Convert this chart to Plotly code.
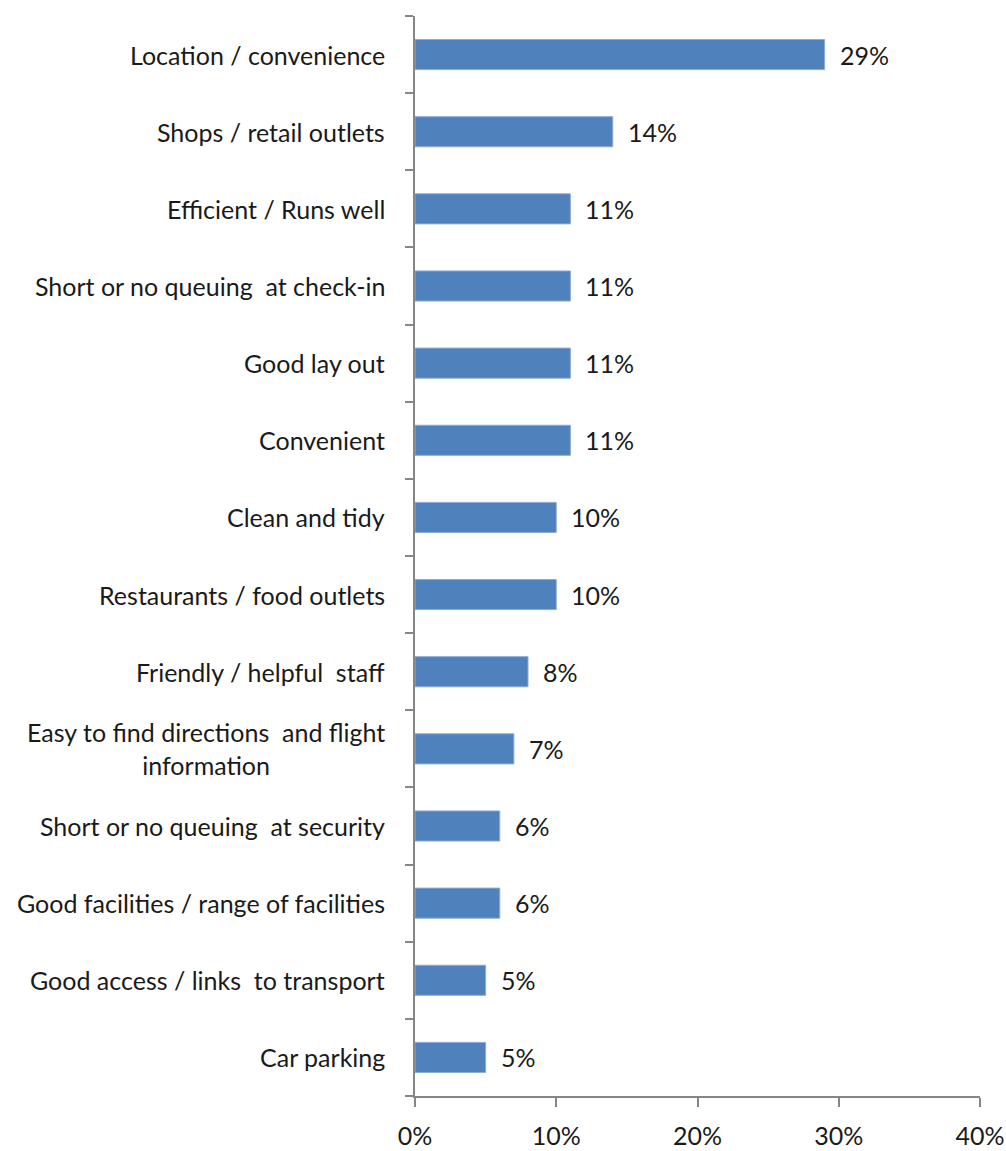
import plotly.graph_objects as go

# Reasons given for rating the airport positively (share of respondents, %)
categories = [
    "Location / convenience",
    "Shops / retail outlets",
    "Efficient / Runs well",
    "Short or no queuing  at check-in",
    "Good lay out",
    "Convenient",
    "Clean and tidy",
    "Restaurants / food outlets",
    "Friendly / helpful  staff",
    "Easy to find directions  and flight<br>information",
    "Short or no queuing  at security",
    "Good facilities / range of facilities",
    "Good access / links  to transport",
    "Car parking",
]
values = [29, 14, 11, 11, 11, 11, 10, 10, 8, 7, 6, 6, 5, 5]
x_ticks = [0, 10, 20, 30, 40]
x_tick_labels = ["0%", "10%", "20%", "30%", "40%"]

FONT = "Lato"
FONT_SIZE = 25
TEXT_COLOR = "#1a1a1a"
AXIS_COLOR = "#868686"
BAR_COLOR = "#4f81bd"

fig = go.Figure(
    go.Bar(
        x=values,
        y=categories,
        orientation="h",
        marker=dict(color=BAR_COLOR, line=dict(color="#8eaad6", width=1)),
        width=0.39,
        hoverinfo="skip",
    )
)

annotations = []
# Category labels, centred on multiple lines and right-aligned next to the axis
for cat in categories:
    annotations.append(dict(
        x=0, xref="paper", y=cat, yref="y",
        text=cat, showarrow=False,
        xanchor="right", yanchor="middle", align="center",
        xshift=-28,
        font=dict(family=FONT, size=FONT_SIZE, color=TEXT_COLOR),
    ))
# Value labels just past the end of each bar
for cat, v in zip(categories, values):
    annotations.append(dict(
        x=v, xref="x", y=cat, yref="y",
        text=f"{v}%", showarrow=False,
        xanchor="left", yanchor="middle",
        xshift=13,
        font=dict(family=FONT, size=FONT_SIZE, color=TEXT_COLOR),
    ))

fig.update_layout(
    width=1006,
    height=1151,
    margin=dict(l=415, r=26, t=16, b=55, autoexpand=False),
    paper_bgcolor="white",
    plot_bgcolor="white",
    showlegend=False,
    annotations=annotations,
    font=dict(family=FONT, size=FONT_SIZE, color=TEXT_COLOR),
)

fig.update_xaxes(
    range=[0, 40],
    tickvals=x_ticks,
    ticktext=x_tick_labels,
    automargin=False,
    showgrid=False,
    zeroline=False,
    showline=True,
    linecolor=AXIS_COLOR,
    linewidth=2,
    ticks="outside",
    ticklen=9,
    tickwidth=2,
    tickcolor=AXIS_COLOR,
    ticklabelstandoff=8,
    tickfont=dict(family=FONT, size=FONT_SIZE, color=TEXT_COLOR),
    fixedrange=True,
)

fig.update_yaxes(
    type="category",
    categoryorder="array",
    categoryarray=categories[::-1],
    range=[-0.5, len(categories) - 0.5],
    automargin=False,
    showticklabels=False,
    showgrid=False,
    zeroline=False,
    showline=True,
    linecolor=AXIS_COLOR,
    linewidth=2,
    ticks="outside",
    tickson="boundaries",
    ticklen=8,
    tickwidth=2,
    tickcolor=AXIS_COLOR,
    fixedrange=True,
)

fig.write_html("out.html")
